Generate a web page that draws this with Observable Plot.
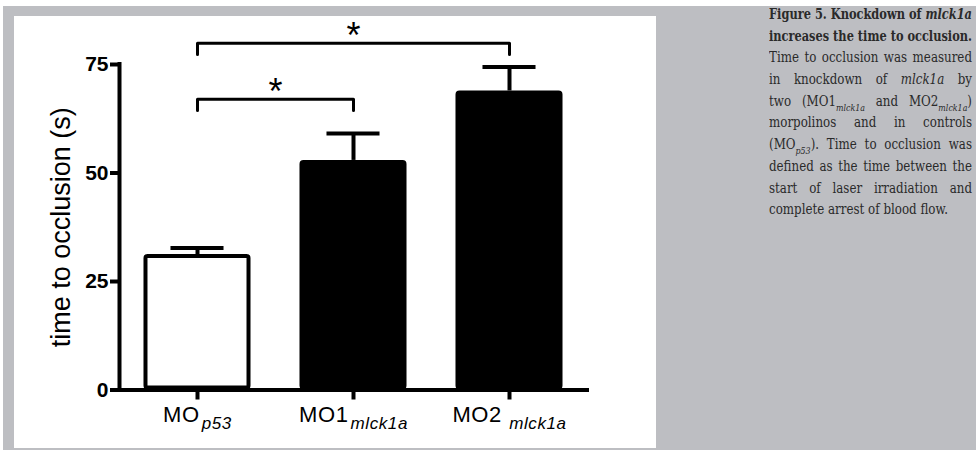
<!DOCTYPE html>
<html><head><meta charset="utf-8">
<script src="https://cdn.jsdelivr.net/npm/d3@7"></script>
<script src="https://cdn.jsdelivr.net/npm/@observablehq/plot@0.6"></script>
<style>
html,body{margin:0;padding:0;background:#fff;}
body{width:976px;height:450px;position:relative;overflow:hidden;}
#frame{position:absolute;left:3px;top:6px;width:973px;height:444px;background:#bdbec2;}
#chart{position:absolute;left:14px;top:16px;width:642px;height:432px;background:#fff;}
#caption{position:absolute;left:769px;top:4px;width:203px;font-family:"DejaVu Serif","Liberation Serif",serif;font-size:15px;line-height:21.7px;color:#2a2a2a;}
#caption .l{height:21.7px;white-space:nowrap;transform-origin:0 0;}
#caption .b{font-weight:bold;}
#caption sub{font-size:10px;font-style:italic;line-height:0;vertical-align:-5px;}
</style></head>
<body>
<div id="frame"></div>
<div id="chart"></div>
<div id="caption">
<div class="l b">Figure 5. Knockdown of <i>mlck1a</i></div>
<div class="l b">increases the time to occlusion.</div>
<div class="l">Time to occlusion was measured</div>
<div class="l">in knockdown of <i>mlck1a</i> by</div>
<div class="l">two (MO1<sub>mlck1a</sub> and MO2<sub>mlck1a</sub>)</div>
<div class="l">morpolinos and in controls</div>
<div class="l">(MO<sub>p53</sub>). Time to occlusion was</div>
<div class="l">defined as the time between the</div>
<div class="l">start of laser irradiation and</div>
<div class="l last">complete arrest of blood flow.</div>
</div>
<script>
// ---- data ----
const categories = ["MO", "MO1", "MO2"];
const labelSubscripts = ["p53", "mlck1a", " mlck1a"];
const groups = ["control", "knockdown", "knockdown"];
const meanTime = [31.2, 52.9, 68.9];
const semTime = [1.5, 6.2, 5.5];
const yTicks = [0, 25, 50, 75];
const yLabel = "time to occlusion (s)";
const bracketFrom = [0, 0];
const bracketTo = [1, 2];
const bracketLevel = [67.0, 79.9];
const bracketLabel = ["*", "*"];

// ---- layout constants ----
const BAR_HALF = 0.343;
const CAP_HALF = 0.17;
const DROP = 2.6;
const xDomain = [-0.5, categories.length - 0.5];

const data = categories.map((c, i) => ({i, main: c, sub: labelSubscripts[i], group: groups[i], value: meanTime[i], err: semTime[i]}));
const brackets = bracketFrom.map((a, k) => ({a, b: bracketTo[k], level: bracketLevel[k], label: bracketLabel[k]}));
const bracketPath = brackets.flatMap((d, k) => [
  {k, x: d.a, y: d.level - DROP}, {k, x: d.a, y: d.level},
  {k, x: d.b, y: d.level}, {k, x: d.b, y: d.level - DROP}
]);

const svg = Plot.plot({
  width: 642, height: 432,
  marginLeft: 105, marginRight: 69, marginTop: 48, marginBottom: 58.5,
  x: {domain: xDomain, axis: null},
  y: {domain: [0, 75], axis: null},
  color: {domain: ["control", "knockdown"], range: ["white", "black"]},
  style: {fontFamily: "'Liberation Sans', Arial, sans-serif", color: "black", background: "white", overflow: "visible"},
  marks: [
    Plot.text(data, {x: "i", y: 0, text: "main", lineAnchor: "bottom", dy: 32, fontSize: 22}),
    Plot.rect(data, {x1: d => d.i - BAR_HALF, x2: d => d.i + BAR_HALF, y1: 0, y2: "value", fill: "group", stroke: "black", strokeWidth: 4, inset: 2, rx: 2}),
    Plot.ruleX(data, {x: "i", y1: "value", y2: d => d.value + d.err, stroke: "black", strokeWidth: 4}),
    Plot.ruleY(data, {y: d => d.value + d.err, x1: d => d.i - CAP_HALF, x2: d => d.i + CAP_HALF, stroke: "black", strokeWidth: 4}),
    Plot.ruleX([xDomain[0]], {y1: 0, y2: 75, stroke: "black", strokeWidth: 4, strokeLinecap: "square"}),
    Plot.ruleY([0], {stroke: "black", strokeWidth: 4, strokeLinecap: "square"}),
    Plot.axisY({ticks: yTicks, tickSize: 9, tickPadding: 2, strokeWidth: 4, fontSize: 21, fontWeight: "bold", label: null}),
    Plot.axisX({ticks: data.map(d => d.i), tickSize: 10, strokeWidth: 4, tickFormat: () => "", label: null}),
    Plot.text([yLabel], {frameAnchor: "left", textAnchor: "middle", rotate: -90, dx: -58, fontSize: 27}),
    Plot.line(bracketPath, {x: "x", y: "y", z: "k", stroke: "black", strokeWidth: 3}),
    Plot.text(brackets, {x: d => (d.a + d.b) / 2, y: "level", text: "label", fontSize: 36, lineAnchor: "bottom", dy: 5})
  ]
});

// subscripts on the category labels (first text mark)
const labelGroup = svg.querySelector('g[aria-label="text"]');
d3.select(labelGroup).selectAll("text").each(function(_, k) {
  const t = d3.select(this);
  const d = data[k];
  t.text(null).attr("letter-spacing", 0.6);
  t.append("tspan").text(d.main);
  t.append("tspan").attr("dx", 2).attr("dy", 6.5).attr("font-size", 17).attr("font-style", "italic").text(d.sub);
});

document.getElementById("chart").appendChild(svg);

// caption: justified lines, horizontally condensed to the reference's measure
const COL_W = 203, LAST_W = 179;
const lines = Array.from(document.querySelectorAll("#caption .l"));
const widths = lines.map(el => {
  el.innerHTML = `<span>${el.innerHTML}</span>`;
  return el.firstChild.getBoundingClientRect().width;
});
const sReg = LAST_W / widths[widths.length - 1];
lines.forEach((el, k) => {
  el.innerHTML = el.firstChild.innerHTML;
  const last = el.classList.contains("last");
  const s = last ? sReg : Math.min(sReg, COL_W / widths[k]);
  el.style.transform = `scaleX(${s})`;
  if (!last) {
    el.style.width = (COL_W / s) + "px";
    el.style.whiteSpace = "normal";
    el.style.textAlign = "justify";
    el.style.textAlignLast = "justify";
  }
});
</script>
</body></html>
